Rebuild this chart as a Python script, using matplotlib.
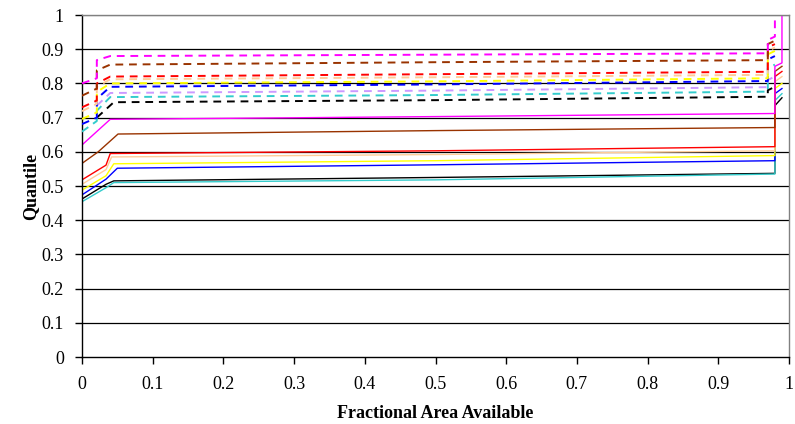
import matplotlib
matplotlib.use('Agg')
import matplotlib.pyplot as plt

# farbige Quantil-Linien (Excel-Palette)
renk = {
    'magenta': '#FF00FF', 'brown': '#993300', 'red': '#FF0000',
    'peach': '#FFCC99', 'yellow': '#FFFF00', 'blue': '#0000FF',
    'lavender': '#CC99FF', 'teal': '#33CCCC', 'black': '#000000',
}

# Durchgezogene Serien: x- und y-Werte
solid_names = ['black', 'teal', 'blue', 'yellow', 'peach', 'red', 'brown', 'magenta']
solid_x = {
    'magenta': [0, 0.04, 0.5, 0.98, 0.98, 0.99, 0.99],
    'brown':   [0, 0.023, 0.051, 0.5, 0.98, 0.98, 0.99],
    'red':     [0, 0.034, 0.04, 0.5, 0.98, 0.98, 0.99],
    'peach':   [0, 0.034, 0.042, 0.5, 0.98, 0.98, 0.99],
    'yellow':  [0, 0.034, 0.045, 0.5, 0.98, 0.98, 0.99],
    'blue':    [0, 0.034, 0.05, 0.5, 0.98, 0.98, 0.99],
    'black':   [0, 0.034, 0.045, 0.5, 0.98, 0.98, 0.99],
    'teal':    [0, 0.034, 0.045, 0.5, 0.98, 0.98, 0.99],
}
solid_y = {
    'magenta': [0.62, 0.695, 0.703, 0.712, 0.85, 0.86, 1.0],
    'brown':   [0.566, 0.60, 0.652, 0.662, 0.671, 0.835, 0.85],
    'red':     [0.518, 0.561, 0.595, 0.603, 0.615, 0.82, 0.835],
    'peach':   [0.505, 0.548, 0.585, 0.592, 0.603, 0.805, 0.82],
    'yellow':  [0.488, 0.53, 0.565, 0.574, 0.589, 0.785, 0.80],
    'blue':    [0.474, 0.52, 0.552, 0.562, 0.574, 0.77, 0.785],
    'black':   [0.462, 0.505, 0.515, 0.525, 0.537, 0.735, 0.758],
    'teal':    [0.454, 0.495, 0.51, 0.518, 0.535, 0.75, 0.77],
}

# Gestrichelte Serien
dash_names = ['black', 'teal', 'lavender', 'blue', 'yellow', 'peach', 'red', 'brown', 'magenta']
dash_x_std = [0, 0.021, 0.021, 0.04, 0.5, 0.97, 0.97, 0.98]
dash_x = {
    'magenta': [0, 0.021, 0.021, 0.04, 0.5, 0.97, 0.97, 0.98, 0.98],
    'brown': dash_x_std, 'red': dash_x_std, 'peach': dash_x_std,
    'yellow': dash_x_std, 'blue': dash_x_std, 'teal': dash_x_std,
    'lavender': [0.021, 0.04, 0.5, 0.97, 0.97, 0.98],
    'black':    [0.021, 0.045, 0.5, 0.97, 0.97, 0.98],
}
dash_y = {
    'magenta':  [0.80, 0.815, 0.868, 0.88, 0.884, 0.888, 0.927, 0.937, 1.0],
    'brown':    [0.764, 0.785, 0.838, 0.855, 0.862, 0.868, 0.915, 0.925],
    'red':      [0.730, 0.75, 0.80, 0.82, 0.827, 0.834, 0.905, 0.915],
    'peach':    [0.719, 0.74, 0.79, 0.812, 0.818, 0.825, 0.895, 0.905],
    'yellow':   [0.696, 0.715, 0.775, 0.80, 0.806, 0.815, 0.885, 0.895],
    'blue':     [0.681, 0.70, 0.755, 0.79, 0.797, 0.807, 0.87, 0.88],
    'teal':     [0.659, 0.69, 0.72, 0.76, 0.766, 0.776, 0.845, 0.855],
    'lavender': [0.735, 0.772, 0.779, 0.789, 0.81, 0.82],
    'black':    [0.70, 0.745, 0.751, 0.761, 0.78, 0.79],
}

y_ticks = [0, 0.1, 0.2, 0.3, 0.4, 0.5, 0.6, 0.7, 0.8, 0.9, 1]
x_ticks = [0, 0.1, 0.2, 0.3, 0.4, 0.5, 0.6, 0.7, 0.8, 0.9, 1]
tick_labels = ['0', '0.1', '0.2', '0.3', '0.4', '0.5', '0.6', '0.7', '0.8', '0.9', '1']

plt.rcParams['font.family'] = ['Liberation Serif', 'DejaVu Serif']

fig = plt.figure(figsize=(7.95, 4.24), dpi=100)
ax = fig.add_axes([0.1031, 0.158, 0.8894, 0.8066])

# Gitterlinien
for yt in y_ticks[1:]:
    ax.axhline(yt, color='#000000' if yt < 1 else '#808080', lw=0.9, zorder=1)

for ad in solid_names:
    ax.plot(solid_x[ad], solid_y[ad], color=renk[ad], lw=1.0, zorder=2)

for ad in dash_names:
    ax.plot(dash_x[ad], dash_y[ad], color=renk[ad], lw=1.4,
            dashes=(4.0, 3.0), zorder=3)

ax.set_xlim(0, 1)
ax.set_ylim(0, 1)
ax.set_xticks(x_ticks)
ax.set_xticklabels(tick_labels)
ax.set_yticks(y_ticks)
ax.set_yticklabels(tick_labels)
ax.tick_params(direction='out', length=5, width=1, labelsize=13, color='black')
ax.tick_params(axis='y', pad=8)
ax.tick_params(axis='x', pad=9)

ax.spines['left'].set_color('black')
ax.spines['bottom'].set_color('black')
ax.spines['top'].set_color('#808080')
ax.spines['right'].set_color('#808080')
for s in ax.spines.values():
    s.set_linewidth(1.0)

ax.set_xlabel('Fractional Area Available', fontsize=13, fontweight='bold', labelpad=8)
ax.set_ylabel('Quantile', fontsize=13, fontweight='bold', labelpad=2)

fig.savefig('out.png', dpi=100)
